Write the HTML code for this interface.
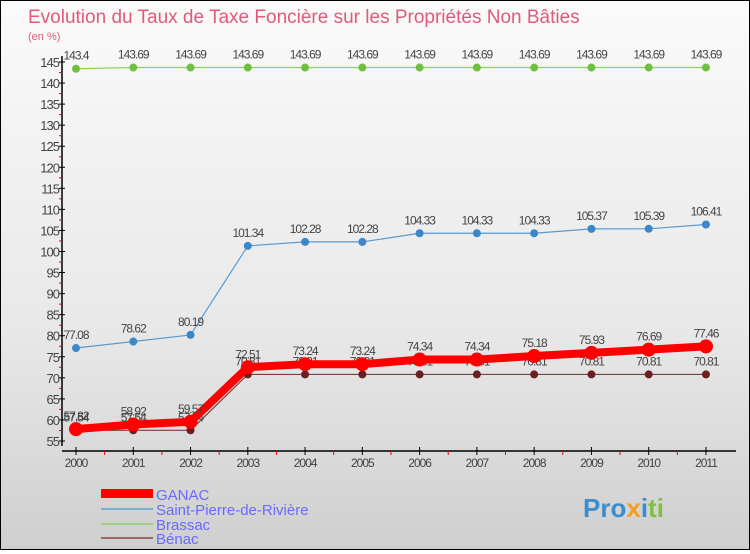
<!DOCTYPE html>
<html><head><meta charset="utf-8"><style>
html,body{margin:0;padding:0}
body{width:750px;height:550px;overflow:hidden;font-family:"Liberation Sans",sans-serif}
#wrap{position:relative;width:748px;height:548px;border:1px solid #000;background:linear-gradient(#fafafa,#e8e8e8 60%,#cfcfcf)}
</style></head><body>
<div id="wrap">
<svg id="svg" width="748" height="548">
<text x="27" y="22" font-size="19" fill="#e05a7a">Evolution du Taux de Taxe Foncière sur les Propriétés Non Bâties</text>
<text x="27" y="39" font-size="11" fill="#e05a7a">(en %)</text>
<g id="axes"></g><g id="series"></g>
<g>
<rect x="100" y="488" width="52" height="9" fill="#f00"/>
<text x="155" y="499" font-size="15" fill="#6a6aff">GANAC</text>
<rect x="100" y="507" width="52" height="2" fill="#7aaed0"/>
<text x="155" y="514" font-size="15" fill="#6a6aff">Saint-Pierre-de-Rivière</text>
<rect x="100" y="522" width="52" height="2" fill="#9cd080"/>
<text x="155" y="529" font-size="15" fill="#6a6aff">Brassac</text>
<rect x="100" y="536" width="52" height="2" fill="#9a6a6a"/>
<text x="155" y="543" font-size="15" fill="#6a6aff">Bénac</text>
</g>
<text x="582" y="516" font-size="26" font-weight="bold"><tspan fill="#3a8ed0">Pro</tspan><tspan fill="#f0a020">x</tspan><tspan fill="#3a8ed0">i</tspan><tspan fill="#80c040">ti</tspan></text>
</svg></div>
<script>
const years=["2000","2001","2002","2003","2004","2005","2006","2007","2008","2009","2010","2011"];
const yTicks=[55,60,65,70,75,80,85,90,95,100,105,110,115,120,125,130,135,140,145];
const benac=[57.54,57.54,57.54,70.81,70.81,70.81,70.81,70.81,70.81,70.81,70.81,70.81];
const brassac=[143.4,143.69,143.69,143.69,143.69,143.69,143.69,143.69,143.69,143.69,143.69,143.69];
const stpierre=[77.08,78.62,80.19,101.34,102.28,102.28,104.33,104.33,104.33,105.37,105.39,106.41];
const ganac=[57.82,58.92,59.57,72.51,73.24,73.24,74.34,74.34,75.18,75.93,76.69,77.46];
const NS="http://www.w3.org/2000/svg";
const X=i=>75+i*57.27, Y=v=>440-(v-55)*(379/90);
function mk(p,t,a){const e=document.createElementNS(NS,t);for(const k in a)e.setAttribute(k,a[k]);p.appendChild(e);return e;}
const ax=document.getElementById('axes'),sr=document.getElementById('series');
let l=mk(ax,'line',{x1:61,y1:55,x2:61,y2:445,stroke:'#000','stroke-width':1.5});

l=mk(ax,'line',{x1:61,y1:450,x2:735,y2:450,stroke:'#000','stroke-width':1.5});

yTicks.forEach(v=>{const y=Y(v);mk(ax,'line',{x1:58,y1:y,x2:64,y2:y,stroke:'#000'});
 if(v<145)mk(ax,'line',{x1:58,y1:Y(v+2.5),x2:61,y2:Y(v+2.5),stroke:'#e00'});
 const t=mk(ax,'text',{x:58,y:y+5,'font-size':13,fill:'#444','text-anchor':'end','letter-spacing':'-1'});t.textContent=v;
 });
years.forEach((yr,i)=>{const x=X(i);mk(ax,'line',{x1:x,y1:446,x2:x,y2:454,stroke:'#000'});
 if(i<11)mk(ax,'line',{x1:x+28.6,y1:450,x2:x+28.6,y2:454,stroke:'#e00'});
 const t=mk(ax,'text',{x:x,y:466,'font-size':12,fill:'#444','text-anchor':'middle','letter-spacing':'-1'});t.textContent=yr;
 });
function series(d,name,col,lw,r,dot,lab){const g=mk(sr,'g',{});
 
 mk(g,'polyline',{points:d.map((v,i)=>X(i)+','+Y(v)).join(' '),fill:'none',stroke:col,'stroke-width':lw,'stroke-linejoin':'round'});
 d.forEach((v,i)=>{const c=mk(g,'circle',{cx:X(i),cy:Y(v),r:r,fill:dot});
  
  const t=mk(g,'text',{x:X(i),y:Y(v)-9,'font-size':12,fill:'#444','text-anchor':'middle','letter-spacing':'-1'});t.textContent=v;
  });}
series(benac,'benac','#7a4040',1.2,4,'#6a2020');
series(brassac,'brassac','#8fd060',1.2,4,'#70c040');
series(stpierre,'saint-pierre','#5a9ad0',1.2,4,'#3a88c8');
series(ganac,'ganac','#f00',8,7,'#f00');
</script>
</body></html>
